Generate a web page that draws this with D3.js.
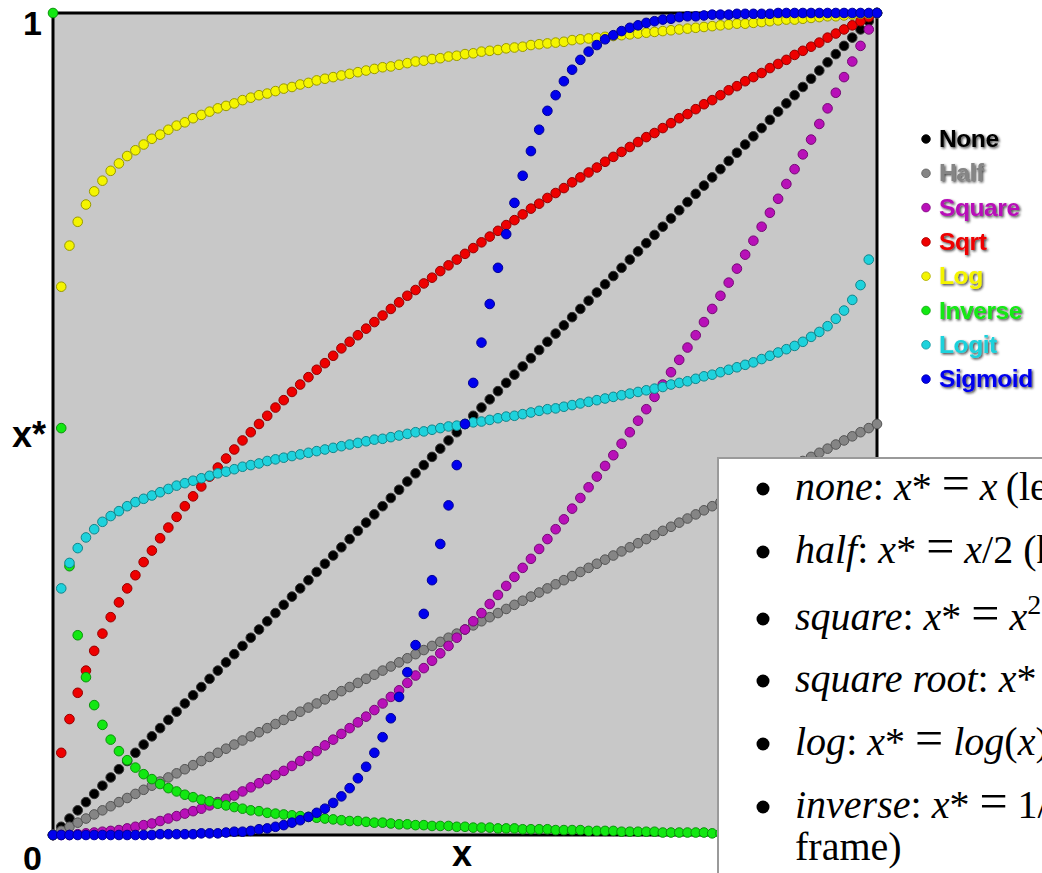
<!DOCTYPE html>
<html>
<head>
<meta charset="utf-8">
<script src="https://d3js.org/d3.v7.min.js"></script>
<style>
  body { margin: 0; background: #fff; }
  svg { display: block; }
</style>
</head>
<body>
<script>
// x values shared by every transformation
var xVals = [0,.01,.02,.03,.04,.05,.06,.07,.08,.09,
  .10,.11,.12,.13,.14,.15,.16,.17,.18,.19,
  .20,.21,.22,.23,.24,.25,.26,.27,.28,.29,
  .30,.31,.32,.33,.34,.35,.36,.37,.38,.39,
  .40,.41,.42,.43,.44,.45,.46,.47,.48,.49,
  .50,.51,.52,.53,.54,.55,.56,.57,.58,.59,
  .60,.61,.62,.63,.64,.65,.66,.67,.68,.69,
  .70,.71,.72,.73,.74,.75,.76,.77,.78,.79,
  .80,.81,.82,.83,.84,.85,.86,.87,.88,.89,
  .90,.91,.92,.93,.94,.95,.96,.97,.98,.99,1];

var noneVals = [0,.01,.02,.03,.04,.05,.06,.07,.08,.09,
  .10,.11,.12,.13,.14,.15,.16,.17,.18,.19,
  .20,.21,.22,.23,.24,.25,.26,.27,.28,.29,
  .30,.31,.32,.33,.34,.35,.36,.37,.38,.39,
  .40,.41,.42,.43,.44,.45,.46,.47,.48,.49,
  .50,.51,.52,.53,.54,.55,.56,.57,.58,.59,
  .60,.61,.62,.63,.64,.65,.66,.67,.68,.69,
  .70,.71,.72,.73,.74,.75,.76,.77,.78,.79,
  .80,.81,.82,.83,.84,.85,.86,.87,.88,.89,
  .90,.91,.92,.93,.94,.95,.96,.97,.98,.99,1];

var halfVals = [0,.005,.01,.015,.02,.025,.03,.035,.04,.045,
  .05,.055,.06,.065,.07,.075,.08,.085,.09,.095,
  .1,.105,.11,.115,.12,.125,.13,.135,.14,.145,
  .15,.155,.16,.165,.17,.175,.18,.185,.19,.195,
  .2,.205,.21,.215,.22,.225,.23,.235,.24,.245,
  .25,.255,.26,.265,.27,.275,.28,.285,.29,.295,
  .3,.305,.31,.315,.32,.325,.33,.335,.34,.345,
  .35,.355,.36,.365,.37,.375,.38,.385,.39,.395,
  .4,.405,.41,.415,.42,.425,.43,.435,.44,.445,
  .45,.455,.46,.465,.47,.475,.48,.485,.49,.495,.5];

var squareVals = [0,0,0,.001,.002,.003,.004,.005,.006,.008,
  .010,.012,.014,.017,.020,.023,.026,.029,.032,.036,
  .040,.044,.048,.053,.058,.063,.068,.073,.078,.084,
  .090,.096,.102,.109,.116,.123,.130,.137,.144,.152,
  .160,.168,.176,.185,.194,.203,.212,.221,.230,.240,
  .250,.260,.270,.281,.292,.303,.314,.325,.336,.348,
  .360,.372,.384,.397,.410,.423,.436,.449,.462,.476,
  .490,.504,.518,.533,.548,.563,.578,.593,.608,.624,
  .640,.656,.672,.689,.706,.723,.740,.757,.774,.792,
  .810,.828,.846,.865,.884,.903,.922,.941,.960,.980,1];

var sqrtVals = [0,.100,.141,.173,.200,.224,.245,.265,.283,.300,
  .316,.332,.346,.361,.374,.387,.400,.412,.424,.436,
  .447,.458,.469,.480,.490,.500,.510,.520,.529,.539,
  .548,.557,.566,.574,.583,.592,.600,.608,.616,.624,
  .632,.640,.648,.656,.663,.671,.678,.686,.693,.700,
  .707,.714,.721,.728,.735,.742,.748,.755,.762,.768,
  .775,.781,.787,.794,.800,.806,.812,.819,.825,.831,
  .837,.843,.849,.854,.860,.866,.872,.877,.883,.889,
  .894,.900,.906,.911,.917,.922,.927,.933,.938,.943,
  .949,.954,.959,.964,.970,.975,.980,.985,.990,.995,1];

var logVals = [0,.667,.717,.746,.767,.783,.796,.808,.817,.826,
  .833,.840,.847,.852,.858,.863,.867,.872,.876,.880,
  .884,.887,.890,.894,.897,.900,.902,.905,.908,.910,
  .913,.915,.918,.920,.922,.924,.926,.928,.930,.932,
  .934,.935,.937,.939,.941,.942,.944,.945,.947,.948,
  .950,.951,.953,.954,.955,.957,.958,.959,.961,.962,
  .963,.964,.965,.967,.968,.969,.970,.971,.972,.973,
  .974,.975,.976,.977,.978,.979,.980,.981,.982,.983,
  .984,.985,.986,.987,.987,.988,.989,.990,.991,.992,
  .992,.993,.994,.995,.996,.996,.997,.998,.999,.999,1];

var inverseVals = [1,.495,.327,.243,.192,.158,.134,.116,.102,.091,
  .082,.074,.068,.062,.057,.053,.049,.046,.043,.041,
  .038,.036,.034,.032,.030,.029,.027,.026,.025,.024,
  .023,.022,.021,.020,.019,.018,.017,.017,.016,.015,
  .015,.014,.013,.013,.012,.012,.011,.011,.011,.010,
  .010,.009,.009,.009,.008,.008,.008,.007,.007,.007,
  .007,.006,.006,.006,.006,.005,.005,.005,.005,.004,
  .004,.004,.004,.004,.003,.003,.003,.003,.003,.003,
  .002,.002,.002,.002,.002,.002,.002,.001,.001,.001,
  .001,.001,.001,.001,.001,.001,0,0,0,0,0];

var logitVals = [0,.300,.331,.349,.362,.372,.381,.388,.394,.400,
  .405,.409,.413,.417,.421,.425,.428,.431,.434,.437,
  .440,.442,.445,.448,.450,.452,.455,.457,.459,.461,
  .463,.465,.467,.469,.471,.473,.475,.477,.479,.481,
  .482,.484,.486,.488,.490,.491,.493,.495,.497,.498,
  .500,.502,.503,.505,.507,.509,.510,.512,.514,.516,
  .518,.519,.521,.523,.525,.527,.529,.531,.533,.535,
  .537,.539,.541,.543,.545,.548,.550,.552,.555,.558,
  .560,.563,.566,.569,.572,.575,.579,.583,.587,.591,
  .595,.600,.606,.612,.619,.628,.638,.651,.669,.700,1];

var sigmoidVals = [0,0,0,0,0,0,0,0,0,0,
  0,0,0,.001,.001,.001,.001,.001,.002,.002,
  .002,.003,.004,.004,.005,.007,.008,.010,.012,.015,
  .018,.022,.027,.032,.039,.047,.057,.069,.083,.100,
  .119,.142,.168,.198,.231,.269,.310,.354,.401,.450,
  .500,.550,.599,.646,.690,.731,.769,.802,.832,.858,
  .881,.900,.917,.931,.943,.953,.961,.968,.973,.978,
  .982,.985,.988,.990,.992,.993,.995,.996,.996,.997,
  .998,.998,.998,.999,.999,.999,.999,.999,1,1,
  1,1,1,1,1,1,1,1,1,1,1];

var seriesNames = ["None", "Half", "Square", "Sqrt", "Log", "Inverse", "Logit", "Sigmoid"];
var seriesVals = [noneVals, halfVals, squareVals, sqrtVals, logVals, inverseVals, logitVals, sigmoidVals];
var seriesColors = ["#000000", "#858585", "#b810b8", "#ee0000", "#f4f400", "#12e812", "#1ed2dc", "#0000ee"];
var tickLabels = ["0", "1"];

// text of the overlapping slide box: [text, style]
// i = italic, r = roman, s = superscript, e = big equals sign
var eq = [[" ", "r"], ["=", "e"], [" ", "r"]];
var noteLines = [
  [["none", "i"], [": ", "r"], ["x", "i"], ["*", "r"]].concat(eq, [["x", "i"], ["\u2009(leave as is)", "r"]]),
  [["half", "i"], [": ", "r"], ["x", "i"], ["*", "r"]].concat(eq, [["x", "i"], ["/2 (halved)", "r"]]),
  [["square", "i"], [": ", "r"], ["x", "i"], ["*", "r"]].concat(eq, [["x", "i"], ["2", "s"]]),
  [["square root", "i"], [": ", "r"], ["x", "i"], ["*", "r"]].concat(eq, [["\u221A", "r"], ["x", "i"]]),
  [["log", "i"], [": ", "r"], ["x", "i"], ["*", "r"]].concat(eq, [["log", "i"], ["(", "r"], ["x", "i"], [")", "r"]]),
  [["inverse", "i"], [": ", "r"], ["x", "i"], ["*", "r"]].concat(eq, [["1/", "r"], ["x", "i"], [" (reversed", "r"]]),
  [["frame)", "r"]]
];

var width_SVG = 1042;
var height_SVG = 873;

var svg = d3.select("body").append("svg")
    .attr("width", width_SVG)
    .attr("height", height_SVG);

var defs = svg.append("defs");
defs.append("filter")
    .attr("id", "shadow")
    .attr("x", "-10%").attr("y", "-20%").attr("width", "130%").attr("height", "150%")
    .append("feDropShadow")
    .attr("dx", 1.4).attr("dy", 1.4)
    .attr("stdDeviation", 0.8)
    .attr("flood-color", "#1a1a1a")
    .attr("flood-opacity", 0.8);

var x = d3.scaleLinear().domain([0, 1]).range([53, 877]);
var y = d3.scaleLinear().domain([0, 1]).range([835, 13]);

// plot frame
svg.append("rect")
    .attr("x", x(0))
    .attr("y", y(1))
    .attr("width", x(1) - x(0))
    .attr("height", y(0) - y(1))
    .attr("fill", "#c8c8c8")
    .attr("stroke", "#000")
    .attr("stroke-width", 3);

// points, one group per transformation
seriesVals.forEach(function (vals, k) {
    var col = seriesColors[k];
    svg.append("g")
        .selectAll("circle")
        .data(vals)
        .enter()
        .append("circle")
        .attr("cx", function (d, i) { return x(xVals[i]); })
        .attr("cy", function (d) { return y(d); })
        .attr("r", 4.8)
        .attr("fill", col)
        .attr("stroke", k == 0 ? "#333" : d3.color(col).darker(1.3))
        .attr("stroke-width", 1);
});

// axis labels
var labelFont = "'Liberation Sans', Arial, sans-serif";
svg.selectAll(".tick-label")
    .data(tickLabels)
    .enter()
    .append("text")
    .attr("class", "tick-label")
    .attr("x", 42)
    .attr("y", function (d) { return d == "1" ? y(+d) + 22 : y(+d) + 35; })
    .attr("text-anchor", "end")
    .attr("font-family", labelFont)
    .attr("font-weight", "bold")
    .attr("font-size", 34)
    .text(function (d) { return d; });

svg.append("text")
    .attr("x", 462)
    .attr("y", 866)
    .attr("text-anchor", "middle")
    .attr("font-family", labelFont)
    .attr("font-weight", "bold")
    .attr("font-size", 36)
    .text("x");

svg.append("text")
    .attr("x", 12)
    .attr("y", 447)
    .attr("font-family", labelFont)
    .attr("font-weight", "bold")
    .attr("font-size", 36)
    .text("x*");

// legend
var legend = svg.append("g");
var leg = legend.selectAll("g")
    .data(seriesNames)
    .enter()
    .append("g")
    .attr("transform", function (d, i) { return "translate(926," + (147 + i * 34.3) + ")"; });

leg.append("circle")
    .attr("cx", 0)
    .attr("cy", -8)
    .attr("r", 4.3)
    .attr("fill", function (d, i) { return seriesColors[i]; })
    .attr("stroke", function (d, i) { return d3.color(seriesColors[i]).darker(1); })
    .attr("stroke-width", 0.8);

leg.append("text")
    .attr("x", 13)
    .attr("y", 0)
    .attr("font-family", labelFont)
    .attr("font-weight", "bold")
    .attr("font-size", 24.5)
    .attr("letter-spacing", -0.4)
    .attr("fill", function (d, i) { return seriesColors[i]; })
    .attr("filter", "url(#shadow)")
    .text(function (d) { return d; });

// white note box overlapping the chart
var box = svg.append("g");
box.append("rect")
    .attr("x", 718)
    .attr("y", 458)
    .attr("width", 400)
    .attr("height", 500)
    .attr("fill", "#fff")
    .attr("stroke", "#9a9a9a")
    .attr("stroke-width", 2);

var lineY = [500, 563, 630, 692, 755, 818, 860];
noteLines.forEach(function (parts, li) {
    if (li < 6) {
        box.append("circle")
            .attr("cx", 763)
            .attr("cy", lineY[li] - 11)
            .attr("r", 6.5)
            .attr("fill", "#000");
    }
    var t = box.append("text")
        .attr("x", 795)
        .attr("y", lineY[li])
        .attr("font-family", "'Liberation Serif', 'Times New Roman', serif")
        .attr("font-size", 40)
        .attr("fill", "#000");
    var up = false;
    parts.forEach(function (p) {
        var ts = t.append("tspan").text(p[0]);
        if (p[1] == "i") ts.attr("font-style", "italic");
        if (p[1] == "e") ts.attr("font-size", 50);
        if (p[1] == "s") {
            ts.attr("font-size", 28).attr("dy", -16);
            up = true;
        } else if (up) {
            ts.attr("dy", 16);
            up = false;
        }
    });
});
</script>
</body>
</html>
